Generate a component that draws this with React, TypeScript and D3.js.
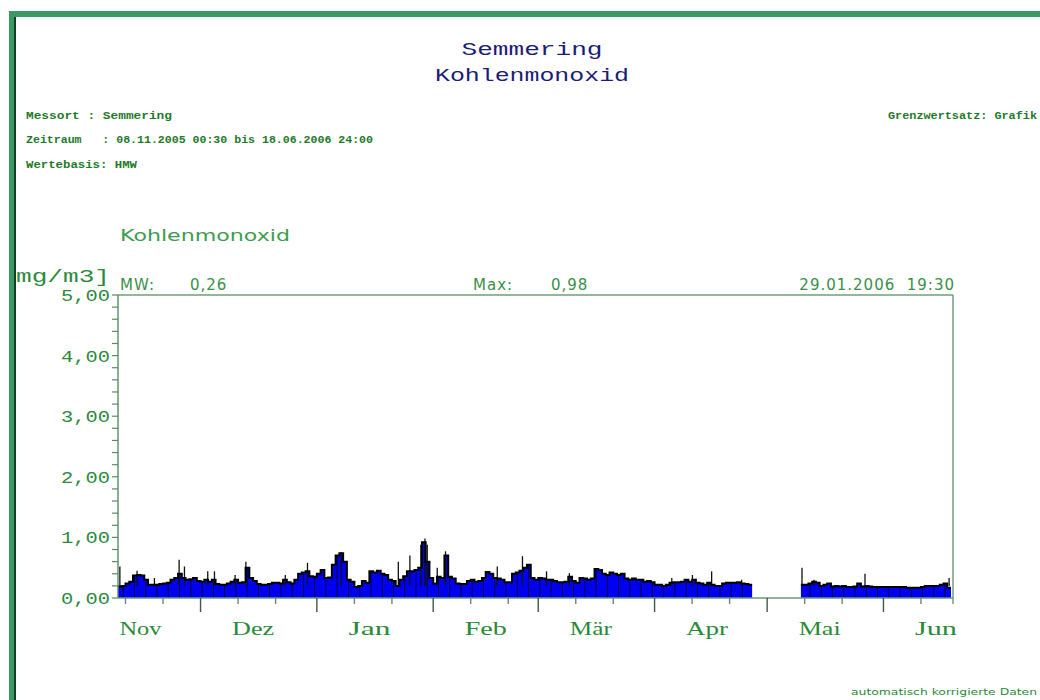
import * as d3 from "d3"
import { useEffect, useRef } from "react"

// daily levels (mg/m3), HMW envelope
const novValues = [0.19, 0.2, 0.24, 0.27, 0.37, 0.38, 0.37, 0.3, 0.22, 0.22, 0.22, 0.23, 0.24, 0.25, 0.3, 0.33, 0.4, 0.33, 0.3, 0.31, 0.33, 0.28]
const dezValues = [0.27, 0.3, 0.27, 0.3, 0.23, 0.22, 0.22, 0.24, 0.27, 0.3, 0.25, 0.26, 0.5, 0.33, 0.28, 0.23, 0.22, 0.22, 0.23, 0.25, 0.25, 0.24, 0.3, 0.26, 0.24, 0.3, 0.4, 0.42, 0.44, 0.36, 0.35]
const janValues = [0.4, 0.46, 0.33, 0.34, 0.55, 0.7, 0.74, 0.6, 0.3, 0.27, 0.18, 0.2, 0.28, 0.25, 0.44, 0.42, 0.45, 0.4, 0.38, 0.3, 0.28, 0.2, 0.3, 0.36, 0.44, 0.44, 0.46, 0.5, 0.92, 0.6, 0.33]
const febValues = [0.24, 0.35, 0.33, 0.7, 0.35, 0.32, 0.24, 0.23, 0.23, 0.28, 0.3, 0.27, 0.28, 0.33, 0.43, 0.4, 0.33, 0.32, 0.3, 0.26, 0.26, 0.4, 0.42, 0.45, 0.5, 0.55, 0.33, 0.3]
const marValues = [0.33, 0.32, 0.3, 0.3, 0.28, 0.26, 0.26, 0.27, 0.35, 0.28, 0.25, 0.33, 0.32, 0.3, 0.32, 0.48, 0.46, 0.4, 0.38, 0.42, 0.4, 0.38, 0.4, 0.32, 0.3, 0.32, 0.3, 0.3, 0.27, 0.28, 0.26]
const aprValues = [0.22, 0.22, 0.2, 0.22, 0.25, 0.26, 0.26, 0.27, 0.3, 0.27, 0.3, 0.25, 0.24, 0.22, 0.25, 0.22, 0.2, 0.2, 0.24, 0.25, 0.25, 0.25, 0.26, 0.24, 0.23, 0.22]
const maiValues = [0.22, 0.22, 0.24, 0.27, 0.25, 0.2, 0.22, 0.24, 0.19, 0.2, 0.19, 0.2, 0.18, 0.18, 0.19, 0.24, 0.19, 0.2, 0.19, 0.18, 0.18, 0.18]
const junValues = [0.18, 0.18, 0.18, 0.18, 0.18, 0.18, 0.17, 0.17, 0.17, 0.17, 0.18, 0.2, 0.2, 0.2, 0.2, 0.22, 0.24, 0.17]

const segments = [
  { start: "2005-11-09 00:00", values: novValues },
  { start: "2005-12-01 00:00", values: dezValues },
  { start: "2006-01-01 00:00", values: janValues },
  { start: "2006-02-01 00:00", values: febValues },
  { start: "2006-03-01 00:00", values: marValues },
  { start: "2006-04-01 00:00", values: aprValues },
  { start: "2006-05-10 00:00", values: maiValues },
  { start: "2006-06-01 00:00", values: junValues },
]

// single half-hour peaks
const spikes: [string, number][] = [
  ["2005-11-09 12:00", 0.52], ["2005-11-14 02:00", 0.45], ["2005-11-18 17:00", 0.33],
  ["2005-11-25 07:00", 0.63], ["2005-11-26 17:00", 0.52], ["2005-12-02 22:00", 0.44],
  ["2005-12-04 17:00", 0.44], ["2005-12-10 05:00", 0.38], ["2005-12-13 02:00", 0.6],
  ["2005-12-23 14:00", 0.38], ["2005-12-29 12:00", 0.58], ["2006-01-07 12:00", 0.76],
  ["2006-01-22 17:00", 0.6], ["2006-01-25 19:00", 0.7], ["2006-01-28 17:00", 0.88],
  ["2006-01-29 19:30", 0.98], ["2006-01-30 10:00", 0.88], ["2006-02-02 02:00", 0.5],
  ["2006-02-04 07:00", 0.77], ["2006-02-18 02:00", 0.52], ["2006-02-24 19:00", 0.69],
  ["2006-03-03 05:00", 0.44], ["2006-03-09 07:00", 0.41], ["2006-04-05 14:00", 0.33],
  ["2006-04-11 02:00", 0.38], ["2006-04-16 05:00", 0.44], ["2006-04-24 05:00", 0.3],
  ["2006-05-10 07:00", 0.5], ["2006-05-13 12:00", 0.3], ["2006-05-27 02:00", 0.4],
  ["2006-06-18 12:00", 0.33],
]

const monthLabels = ["Nov", "Dez", "Jan", "Feb", "Mär", "Apr", "Mai", "Jun"]
const yTicks = [0, 1, 2, 3, 4, 5]
const yTickLabels = ["0,00", "1,00", "2,00", "3,00", "4,00", "5,00"]

const GREEN = "#2c8a3c"
const AXIS = "#5b8a62"

const App = () => {
  const svgRef = useRef<SVGSVGElement>(null)

  useEffect(() => {
    if (!svgRef.current) return
    const svg = d3.select(svgRef.current)
    svg.selectAll("*").remove()

    const parse = d3.timeParse("%Y-%m-%d %H:%M")
    const t0 = parse("2005-11-09 00:00") as Date
    const t1 = parse("2006-06-19 00:00") as Date

    const PLOT = { left: 118, right: 953, top: 295, bottom: 598 }

    const x = d3.scaleTime().domain([t0, t1]).range([PLOT.left, 951])
    const y = d3.scaleLinear().domain([0, 5]).range([PLOT.bottom, PLOT.top])

    svg.append("rect").attr("width", 1040).attr("height", 700).attr("fill", "#fff")

    // header
    const title = [
      { text: "Semmering", y: 55, len: 141 },
      { text: "Kohlenmonoxid", y: 81, len: 194 },
    ]
    title.forEach((t) => {
      svg.append("text")
        .attr("x", 532).attr("y", t.y)
        .attr("text-anchor", "middle")
        .attr("font-family", "Liberation Mono")
        .attr("font-size", 18)
        .attr("textLength", t.len)
        .attr("lengthAdjust", "spacingAndGlyphs")
        .attr("fill", "#1c1c78")
        .text(t.text)
    })

    const info = [
      { text: "Messort : Semmering", x: 26, y: 119, len: 146, anchor: "start" },
      { text: "Zeitraum   : 08.11.2005 00:30 bis 18.06.2006 24:00", x: 26, y: 143, len: 347, anchor: "start" },
      { text: "Wertebasis: HMW", x: 26, y: 168, len: 111, anchor: "start" },
      { text: "Grenzwertsatz: Grafik", x: 1037, y: 119, len: 149, anchor: "end" },
    ]
    info.forEach((t) => {
      svg.append("text")
        .attr("x", t.x).attr("y", t.y)
        .attr("text-anchor", t.anchor)
        .attr("font-family", "Liberation Mono")
        .attr("font-weight", "bold")
        .attr("font-size", 10.5)
        .attr("textLength", t.len)
        .attr("lengthAdjust", "spacingAndGlyphs")
        .attr("fill", "#1e7a2a")
        .style("white-space", "pre")
        .text(t.text)
    })

    svg.append("text")
      .attr("x", 120).attr("y", 241)
      .attr("font-family", "DejaVu Sans")
      .attr("font-size", 15)
      .attr("textLength", 170)
      .attr("lengthAdjust", "spacingAndGlyphs")
      .attr("fill", "#3c9c50")
      .text("Kohlenmonoxid")

    const stats = [
      { text: "MW:", x: 120, anchor: "start" },
      { text: "0,26", x: 190, anchor: "start" },
      { text: "Max:", x: 473, anchor: "start" },
      { text: "0,98", x: 551, anchor: "start" },
      { text: "29.01.2006  19:30", x: 955, anchor: "end" },
    ]
    stats.forEach((t) => {
      svg.append("text")
        .attr("x", t.x).attr("y", 290)
        .attr("text-anchor", t.anchor)
        .attr("font-family", "DejaVu Sans")
        .attr("font-size", 15)
        .attr("letter-spacing", 1)
        .attr("fill", "#3a9048")
        .style("white-space", "pre")
        .text(t.text)
    })

    // unit label (left part hidden behind the border in the original)
    svg.append("text")
      .attr("x", 110).attr("y", 282)
      .attr("text-anchor", "end")
      .attr("font-family", "Liberation Mono")
      .attr("font-size", 18)
      .attr("textLength", 94)
      .attr("lengthAdjust", "spacingAndGlyphs")
      .attr("fill", GREEN)
      .text("mg/m3]")

    // data
    const points: { t: Date; v: number | null }[] = []
    segments.forEach((s, si) => {
      const start = parse(s.start) as Date
      s.values.forEach((v, i) => {
        points.push({ t: d3.timeDay.offset(start, i), v })
        points.push({ t: d3.timeDay.offset(start, i + 1), v })
      })
      const next = segments[si + 1]
      if (next && +d3.timeDay.offset(start, s.values.length) < +(parse(next.start) as Date)) {
        points.push({ t: d3.timeDay.offset(start, s.values.length), v: null })
      }
    })

    const area = d3.area<{ t: Date; v: number | null }>()
      .defined((d) => d.v !== null)
      .x((d) => x(d.t))
      .y0(y(0))
      .y1((d) => y(d.v as number))
    const line = d3.line<{ t: Date; v: number | null }>()
      .defined((d) => d.v !== null)
      .x((d) => x(d.t))
      .y((d) => y(d.v as number))

    svg.append("path").datum(points).attr("d", area).attr("fill", "#0000f0")

    // dark separators every third day
    const seps: { t: Date; v: number }[] = []
    segments.forEach((s) => {
      const start = parse(s.start) as Date
      s.values.forEach((v, i) => {
        const t = d3.timeHour.offset(d3.timeDay.offset(start, i), 10)
        const idx = d3.timeDay.count(t0, t)
        if (idx % 3 === 1) seps.push({ t, v })
      })
    })
    svg.append("g").selectAll("line").data(seps).join("line")
      .attr("x1", (d) => x(d.t)).attr("x2", (d) => x(d.t))
      .attr("y1", y(0)).attr("y2", (d) => y(d.v))
      .attr("stroke", "#000040").attr("stroke-width", 1)

    svg.append("g").selectAll("line").data(spikes).join("line")
      .attr("x1", (d) => x(parse(d[0]) as Date)).attr("x2", (d) => x(parse(d[0]) as Date))
      .attr("y1", y(0.2)).attr("y2", (d) => y(d[1]))
      .attr("stroke", "#111").attr("stroke-width", 1.3)

    svg.append("path").datum(points).attr("d", line)
      .attr("fill", "none").attr("stroke", "#000").attr("stroke-width", 2)

    // frame
    svg.append("line")
      .attr("x1", PLOT.left).attr("x2", PLOT.right).attr("y1", PLOT.top).attr("y2", PLOT.top)
      .attr("stroke", "#2e6e3a").attr("stroke-width", 1.2)
    svg.append("line")
      .attr("x1", PLOT.right).attr("x2", PLOT.right).attr("y1", PLOT.top).attr("y2", PLOT.bottom + 6)
      .attr("stroke", "#6a9a78").attr("stroke-width", 1.4)
    svg.append("line")
      .attr("x1", PLOT.left).attr("x2", PLOT.right).attr("y1", PLOT.bottom).attr("y2", PLOT.bottom)
      .attr("stroke", "#6a9a78").attr("stroke-width", 1.4)
    svg.append("line")
      .attr("x1", PLOT.left).attr("x2", PLOT.left).attr("y1", PLOT.top).attr("y2", PLOT.bottom)
      .attr("stroke", AXIS).attr("stroke-width", 1.4)

    // y axis ticks
    const minor = d3.range(0, 5.001, 0.2)
    svg.append("g").selectAll("line").data(minor).join("line")
      .attr("x1", PLOT.left - 6).attr("x2", PLOT.left)
      .attr("y1", (d) => y(d)).attr("y2", (d) => y(d))
      .attr("stroke", AXIS).attr("stroke-width", 1.2)
    svg.append("g").selectAll("text").data(yTicks).join("text")
      .attr("x", 110).attr("y", (d) => y(d) + 6)
      .attr("text-anchor", "end")
      .attr("font-family", "Liberation Mono")
      .attr("font-size", 17)
      .attr("textLength", 49)
      .attr("lengthAdjust", "spacingAndGlyphs")
      .attr("fill", GREEN)
      .text((d, i) => yTickLabels[i])

    // x axis ticks
    const xTicks = d3.timeDay.range(t0, t1).filter((d) => [1, 11, 21].includes(d.getDate()))
    svg.append("g").selectAll("line").data(xTicks).join("line")
      .attr("x1", (d) => x(d)).attr("x2", (d) => x(d))
      .attr("y1", PLOT.bottom)
      .attr("y2", (d) => PLOT.bottom + (d.getDate() === 1 ? 14 : 6))
      .attr("stroke", (d) => (d.getDate() === 1 ? "#3e5a44" : "#6a8a70"))
      .attr("stroke-width", 1.4)

    const months = d3.timeMonth.range(d3.timeMonth.floor(t0), t1)
    svg.append("g").selectAll("text").data(months).join("text")
      .attr("x", (d) => x(d3.timeDay.offset(d, 14)))
      .attr("y", 635)
      .attr("text-anchor", "middle")
      .attr("font-family", "Liberation Serif")
      .attr("font-size", 19)
      .attr("textLength", 42)
      .attr("lengthAdjust", "spacingAndGlyphs")
      .attr("fill", "#2a8a3a")
      .text((d, i) => monthLabels[i])

    svg.append("text")
      .attr("x", 1037).attr("y", 695)
      .attr("text-anchor", "end")
      .attr("font-family", "DejaVu Sans")
      .attr("font-size", 9)
      .attr("textLength", 186)
      .attr("lengthAdjust", "spacingAndGlyphs")
      .attr("fill", "#2a8a3a")
      .text("automatisch korrigierte Daten")

    // green page border
    svg.append("rect").attr("x", 9).attr("y", 11).attr("width", 1031).attr("height", 6).attr("fill", "#3a9a66")
    svg.append("rect").attr("x", 9).attr("y", 11).attr("width", 5).attr("height", 689).attr("fill", "#3a9a66")
    svg.append("rect").attr("x", 14).attr("y", 17).attr("width", 2).attr("height", 683).attr("fill", "#1a3a24")
  }, [])

  return (
    <svg
      ref={svgRef}
      width={1040}
      height={700}
      style={{ position: "absolute", left: 0, top: 0, display: "block" }}
    />
  )
}

export default App
